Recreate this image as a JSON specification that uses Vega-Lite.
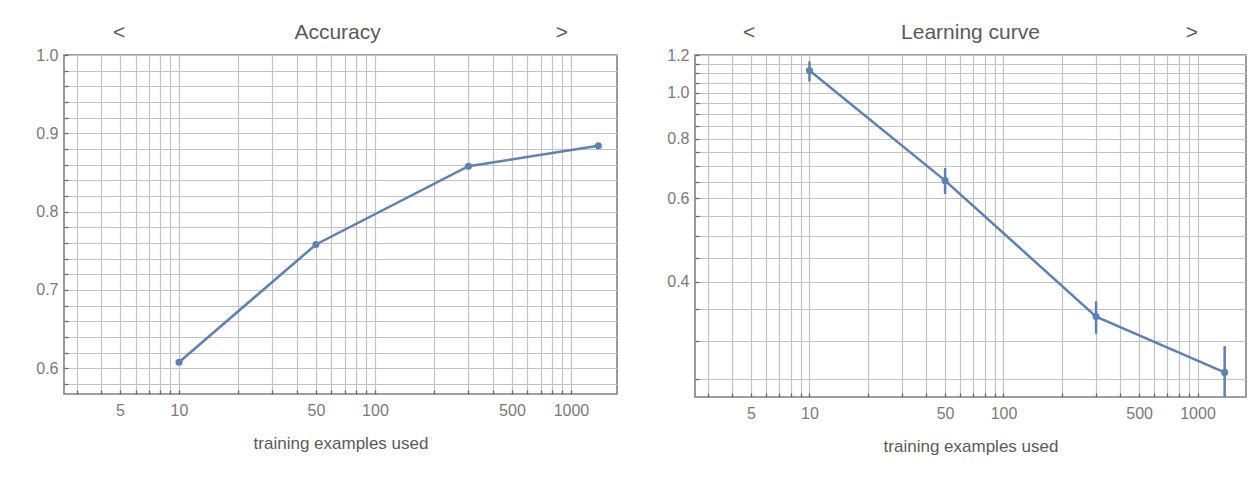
{
  "$schema": "https://vega.github.io/schema/vega-lite/v6.json",
  "padding": {"left": 34, "top": 21, "right": 5, "bottom": 5},
  "background": "white",
  "align": "none",
  "datasets": {
    "accuracy": [
      {"n": 10, "accuracy": 0.6076},
      {"n": 50, "accuracy": 0.758},
      {"n": 300, "accuracy": 0.858},
      {"n": 1380, "accuracy": 0.884}
    ],
    "learning": [
      {"n": 10, "loss": 1.113, "lo": 1.055, "hi": 1.163},
      {"n": 50, "loss": 0.653, "lo": 0.612, "hi": 0.694},
      {"n": 300, "loss": 0.338, "lo": 0.311, "hi": 0.364},
      {"n": 1380, "loss": 0.258, "lo": 0.224, "hi": 0.293}
    ]
  },
  "spacing": 47,
  "hconcat": [
    {
      "width": 553,
      "height": 339,
      "data": {"name": "accuracy"},
      "title": {"text": "<\u00a0\u00a0\u00a0\u00a0\u00a0\u00a0\u00a0\u00a0\u00a0\u00a0\u00a0\u00a0\u00a0\u00a0\u00a0\u00a0\u00a0\u00a0\u00a0\u00a0\u00a0\u00a0\u00a0\u00a0\u00a0\u00a0\u00a0\u00a0\u00a0Accuracy\u00a0\u00a0\u00a0\u00a0\u00a0\u00a0\u00a0\u00a0\u00a0\u00a0\u00a0\u00a0\u00a0\u00a0\u00a0\u00a0\u00a0\u00a0\u00a0\u00a0\u00a0\u00a0\u00a0\u00a0\u00a0\u00a0\u00a0\u00a0\u00a0\u00a0>"},
      "encoding": {
        "x": {
          "field": "n", "type": "quantitative",
          "scale": {"type": "log", "domain": [2.59, 1718], "nice": false},
          "axis": {
            "title": "training examples used",
            "values": [3,4,5,6,7,8,9,10,20,30,40,50,60,70,80,90,100,200,300,400,500,600,700,800,900,1000],
            "labelExpr": "indexof([5,10,50,100,500,1000], datum.value) >= 0 ? format(datum.value, 'd') : ''"
          }
        },
        "y": {
          "field": "accuracy", "type": "quantitative",
          "scale": {"domain": [0.567, 1.0], "nice": false, "zero": false},
          "axis": {
            "title": null,
            "values": [0.58,0.6,0.62,0.64,0.66,0.68,0.7,0.72,0.74,0.76,0.78,0.8,0.82,0.84,0.86,0.88,0.9,0.92,0.94,0.96,0.98,1.0],
            "labelExpr": "abs(datum.value*10 - round(datum.value*10)) < 0.001 ? format(datum.value, '.1f') : ''"
          }
        }
      },
      "layer": [
        {"mark": {"type": "line", "color": "#5e81b5", "strokeWidth": 2.5}},
        {"mark": {"type": "point", "filled": true, "color": "#5e81b5", "size": 50, "opacity": 1}}
      ]
    },
    {
      "width": 551,
      "height": 342,
      "data": {"name": "learning"},
      "title": {"text": "<\u00a0\u00a0\u00a0\u00a0\u00a0\u00a0\u00a0\u00a0\u00a0\u00a0\u00a0\u00a0\u00a0\u00a0\u00a0\u00a0\u00a0\u00a0\u00a0\u00a0\u00a0\u00a0\u00a0\u00a0\u00a0Learning curve\u00a0\u00a0\u00a0\u00a0\u00a0\u00a0\u00a0\u00a0\u00a0\u00a0\u00a0\u00a0\u00a0\u00a0\u00a0\u00a0\u00a0\u00a0\u00a0\u00a0\u00a0\u00a0\u00a0\u00a0\u00a0>"},
      "encoding": {
        "x": {
          "field": "n", "type": "quantitative",
          "scale": {"type": "log", "domain": [2.57, 1778], "nice": false},
          "axis": {
            "title": "training examples used",
            "values": [3,4,5,6,7,8,9,10,20,30,40,50,60,70,80,90,100,200,300,400,500,600,700,800,900,1000],
            "labelExpr": "indexof([5,10,50,100,500,1000], datum.value) >= 0 ? format(datum.value, 'd') : ''"
          }
        },
        "y": {
          "field": "loss", "type": "quantitative",
          "scale": {"type": "log", "domain": [0.229, 1.2], "nice": false},
          "axis": {
            "title": null,
            "values": [0.25,0.3,0.35,0.4,0.45,0.5,0.55,0.6,0.65,0.7,0.75,0.8,0.85,0.9,0.95,1.0,1.05,1.1,1.15,1.2],
            "labelExpr": "abs(datum.value*5 - round(datum.value*5)) < 0.001 ? format(datum.value, '.1f') : ''"
          }
        }
      },
      "layer": [
        {"mark": {"type": "line", "color": "#5e81b5", "strokeWidth": 2.5}},
        {"mark": {"type": "rule", "color": "#5e81b5", "strokeWidth": 2.5, "clip": true},
         "encoding": {"y": {"field": "lo", "type": "quantitative"}, "y2": {"field": "hi"}}},
        {"mark": {"type": "point", "filled": true, "color": "#5e81b5", "size": 50, "opacity": 1}}
      ]
    }
  ],
  "config": {
    "font": "Liberation Sans",
    "view": {"stroke": "#808080", "strokeWidth": 1.6},
    "title": {"fontSize": 21, "color": "#5a5a5a", "fontWeight": "normal", "font": "Liberation Sans", "offset": 4, "anchor": "middle"},
    "axis": {
      "domain": false,
      "grid": true,
      "gridColor": "#c2c2c2",
      "gridWidth": 1.2,
      "ticks": true,
      "tickColor": "#666666",
      "tickSize": -4,
      "tickWidth": 1.3,
      "labelColor": "#7a7a7a",
      "labelFontSize": 16,
      "labelFont": "Liberation Sans",
      "titleColor": "#5a5a5a",
      "titleFontSize": 17,
      "titleFontWeight": "normal",
      "titleFont": "Liberation Sans"
    },
    "axisX": {"labelPadding": 12, "titlePadding": 17},
    "axisY": {"labelPadding": 10}
  }
}
